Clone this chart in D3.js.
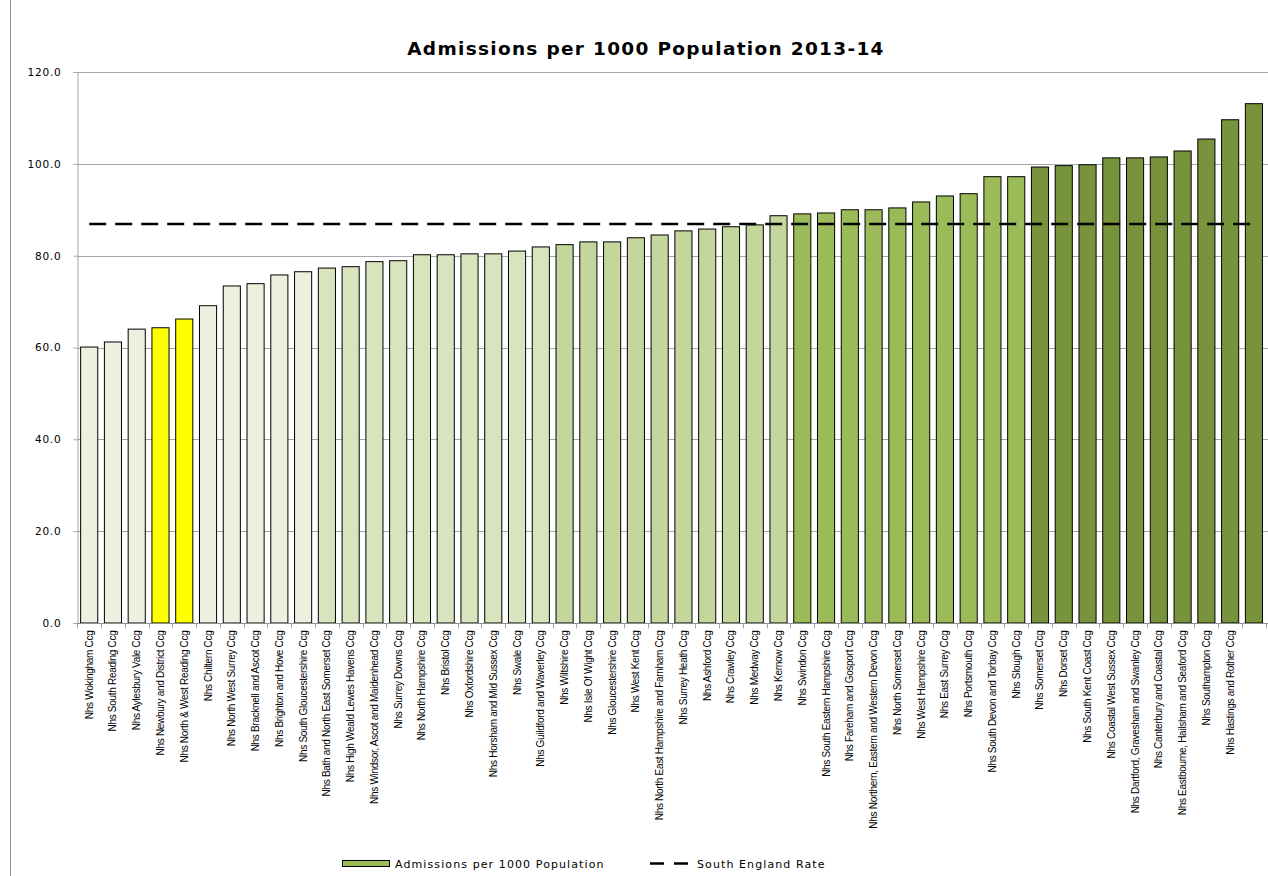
<!DOCTYPE html>
<html><head><meta charset="utf-8">
<script src="https://cdn.jsdelivr.net/npm/d3@7"></script>
<style>body{margin:0;background:#fff}svg{display:block}</style>
</head><body><div id="chart"></div>
<script>
const categories = ["Nhs Wokingham Ccg","Nhs South Reading Ccg","Nhs Aylesbury Vale Ccg","Nhs Newbury and District Ccg","Nhs North & West Reading Ccg","Nhs Chiltern Ccg","Nhs North West Surrey Ccg","Nhs Bracknell and Ascot Ccg","Nhs Brighton and Hove Ccg","Nhs South Gloucestershire Ccg","Nhs Bath and North East Somerset Ccg","Nhs High Weald Lewes Havens Ccg","Nhs Windsor, Ascot and Maidenhead Ccg","Nhs Surrey Downs Ccg","Nhs North Hampshire Ccg","Nhs Bristol Ccg","Nhs Oxfordshire Ccg","Nhs Horsham and Mid Sussex Ccg","Nhs Swale Ccg","Nhs Guildford and Waverley Ccg","Nhs Wiltshire Ccg","Nhs Isle Of Wight Ccg","Nhs Gloucestershire Ccg","Nhs West Kent Ccg","Nhs North East Hampshire and Farnham Ccg","Nhs Surrey Heath Ccg","Nhs Ashford Ccg","Nhs Crawley Ccg","Nhs Medway Ccg","Nhs Kernow Ccg","Nhs Swindon Ccg","Nhs South Eastern Hampshire Ccg","Nhs Fareham and Gosport Ccg","Nhs Northern, Eastern and Western Devon Ccg","Nhs North Somerset Ccg","Nhs West Hampshire Ccg","Nhs East Surrey Ccg","Nhs Portsmouth Ccg","Nhs South Devon and Torbay Ccg","Nhs Slough Ccg","Nhs Somerset Ccg","Nhs Dorset Ccg","Nhs South Kent Coast Ccg","Nhs Coastal West Sussex Ccg","Nhs Dartford, Gravesham and Swanley Ccg","Nhs Canterbury and Coastal Ccg","Nhs Eastbourne, Hailsham and Seaford Ccg","Nhs Southampton Ccg","Nhs Hastings and Rother Ccg",""];
const admissions = [60.1,61.2,64.0,64.3,66.2,69.1,73.4,73.9,75.8,76.5,77.3,77.6,78.7,78.9,80.2,80.2,80.4,80.4,81.0,81.9,82.4,83.0,83.0,83.9,84.5,85.4,85.8,86.3,86.7,88.7,89.1,89.3,90.0,90.0,90.4,91.7,93.0,93.5,97.2,97.2,99.3,99.6,99.8,101.3,101.3,101.5,102.8,105.4,109.6,113.1];
const southEnglandRate = 86.9;
const quintileColors = ["#ebf1de","#d7e4bd","#c3d69b","#9bbb59","#77933c"];
const highlighted = ["Nhs Newbury and District Ccg","Nhs North & West Reading Ccg"];
const yTicks = [0,20,40,60,80,100,120];
const title = "Admissions per 1000 Population 2013-14";
const seriesNames = ["Admissions per 1000 Population","South England Rate"];

const W = 1268, H = 876;
const svg = d3.select("#chart").append("svg").attr("width", W).attr("height", H);
const idx = d3.range(categories.length);
const x = d3.scaleBand().domain(idx).range([77.3, 1265.8]).paddingInner(0.28).paddingOuter(0.14);
const y = d3.scaleLinear().domain([0,120]).range([623, 72]);

// outer frame line
svg.append("line").attr("x1",10.5).attr("x2",10.5).attr("y1",0).attr("y2",H).attr("stroke","#8c8c8c").attr("stroke-width",1);

// title
svg.append("text").attr("x",646).attr("y",55).attr("text-anchor","middle")
  .attr("font-family","DejaVu Sans").attr("font-weight","bold").attr("font-size",18.5)
  .attr("letter-spacing",1.3).text(title);

// gridlines
svg.append("g").selectAll("line").data(yTicks.filter(d=>d>0)).join("line")
  .attr("x1",77).attr("x2",1268).attr("y1",d=>Math.round(y(d))+0.5).attr("y2",d=>Math.round(y(d))+0.5)
  .attr("stroke","#a6a6a6").attr("stroke-width",1);

// y axis
const yAxis = svg.append("g").attr("transform","translate(77.5,0)")
  .call(d3.axisLeft(y).tickValues(yTicks).tickFormat(d3.format(".1f")).tickSize(4).tickPadding(12));
yAxis.select(".domain").attr("stroke","#a6a6a6");
yAxis.selectAll(".tick line").attr("stroke","#a6a6a6");
yAxis.selectAll("text").attr("font-family","DejaVu Sans").attr("font-size",10.5)
  .attr("letter-spacing",0.8).attr("fill","#000");

// bars
svg.append("g").selectAll("rect").data(admissions).join("rect")
  .attr("x",(d,i)=>x(i)).attr("width",x.bandwidth())
  .attr("y",d=>y(d)).attr("height",d=>y(0)-y(d))
  .attr("fill",(d,i)=> highlighted.includes(categories[i]) ? "#ffff00" : quintileColors[Math.floor(i/10)])
  .attr("stroke","#000").attr("stroke-width",1);

// x axis
const step = x.step();
const xg = svg.append("g").attr("transform","translate(0,623.5)");
xg.append("line").attr("x1",77).attr("x2",1268).attr("stroke","#8c8c8c");
xg.selectAll("line.tk").data(d3.range(categories.length+1)).join("line").attr("class","tk")
  .attr("x1",i=>Math.round(77.3+i*step)+0.5).attr("x2",i=>Math.round(77.3+i*step)+0.5)
  .attr("y1",0).attr("y2",5).attr("stroke","#a6a6a6");
xg.selectAll("text").data(categories).join("text")
  .attr("transform",(d,i)=>`translate(${x(i)+x.bandwidth()/2+3.5},7) rotate(-90)`)
  .attr("text-anchor","end").attr("font-family","Liberation Sans").attr("font-size",10)
  .attr("letter-spacing",-0.3).text(d=>d);

// rate line
svg.append("line").attr("x1",x(0)+x.bandwidth()/2).attr("x2",x(49)+x.bandwidth()/2)
  .attr("y1",y(southEnglandRate)).attr("y2",y(southEnglandRate))
  .attr("stroke","#000").attr("stroke-width",2.4).attr("stroke-dasharray","17,9");

// legend
const lg = svg.append("g");
lg.append("rect").attr("x",342.5).attr("y",860.5).attr("width",47).attr("height",6)
  .attr("fill","#9bbb59").attr("stroke","#000");
lg.append("text").attr("x",395).attr("y",868).attr("font-family","DejaVu Sans").attr("font-size",11)
  .attr("letter-spacing",1.1).text(seriesNames[0]);
lg.append("line").attr("x1",650).attr("x2",688).attr("y1",863.5).attr("y2",863.5)
  .attr("stroke","#000").attr("stroke-width",2.4).attr("stroke-dasharray","14,10");
lg.append("text").attr("x",697).attr("y",868).attr("font-family","DejaVu Sans").attr("font-size",11)
  .attr("letter-spacing",1.1).text(seriesNames[1]);
</script></body></html>
